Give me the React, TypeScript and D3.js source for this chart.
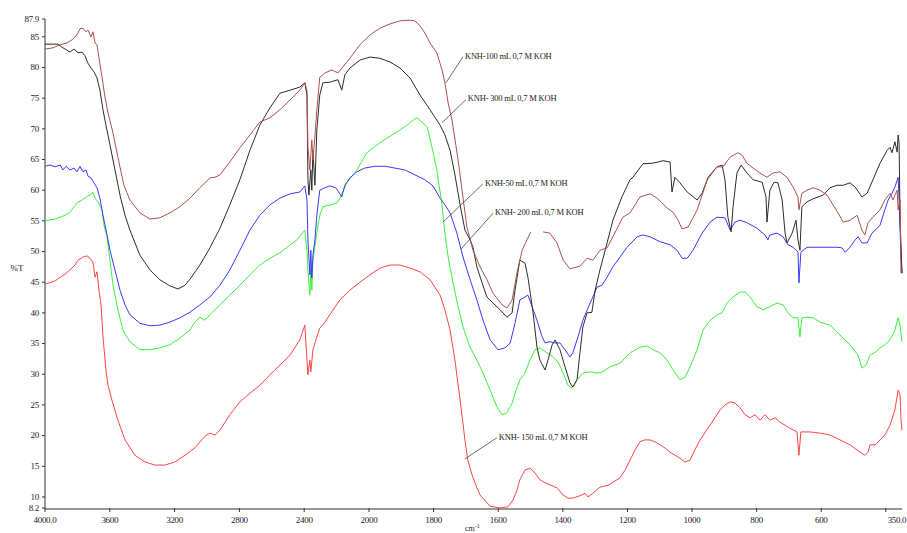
import React from "react";
import * as d3 from "d3";

type Pt = [number, number | null];

// KNH-100 mL (brown)
const brownData: Pt[] = [
  [4000,83.0],[3951,83.2],[3907,83.7],[3864,84.0],[3833,84.5],[3803,85.3],[3784,86.3],[3766,86.4],[3747,85.8],[3735,86.1],
  [3716,85.0],[3704,85.8],[3691,84.0],[3679,83.7],[3648,78.4],[3630,75.2],[3611,72.6],[3580,69.3],[3550,65.4],[3513,60.8],
  [3476,58.4],[3414,56.3],[3352,55.3],[3291,55.5],[3229,56.3],[3167,57.3],[3105,58.7],[3044,60.4],[2982,62.0],[2951,62.1],
  [2920,62.5],[2859,64.6],[2797,66.9],[2735,69.0],[2674,71.1],[2612,71.8],[2550,73.1],[2488,74.7],[2427,76.3],[2396,77.5],
  [2383,76.3],[2377,67.0],[2365,63.3],[2353,68.2],[2346,64.9],[2334,68.7],[2322,73.1],[2304,78.4],[2272,79.1],[2229,79.6],
  [2192,79.1],[2161,80.1],[2118,81.5],[2056,83.7],[1997,85.3],[1966,86.4],[1935,87.1],[1904,87.6],[1873,87.7],[1858,87.6],
  [1842,86.8],[1827,85.6],[1811,84.0],[1790,82.4],[1774,79.6],[1765,77.5],[1755,74.2],[1743,71.4],[1724,64.9],[1712,60.0],
  [1697,54.0],[1678,50.2],[1656,47.5],[1635,45.4],[1616,43.2],[1588,41.3],[1573,40.8],[1557,42.1],[1542,46.5],[1526,50.2],
  [1511,51.9],[1499,53.2],[1480,null],[1461,53.2],[1440,53.0],[1418,51.4],[1399,48.6],[1378,47.2],[1347,47.6],[1325,48.9],
  [1307,48.6],[1285,50.2],[1263,50.6],[1245,52.4],[1214,55.6],[1192,56.3],[1161,58.9],[1130,59.4],[1108,58.7],[1077,57.1],
  [1059,56.4],[1043,55.1],[1031,53.7],[1012,54.0],[984,56.8],[953,61.7],[923,63.8],[904,63.8],[882,65.4],[858,66.1],
  [845,65.7],[830,64.4],[811,63.6],[790,62.8],[768,62.1],[749,62.8],[728,63.0],[706,62.1],[687,60.5],[672,58.9],
  [669,56.8],[660,59.5],[644,60.0],[625,60.4],[604,60.0],[582,59.2],[567,57.9],[548,56.3],[532,54.8],[511,55.1],
  [489,55.9],[474,53.5],[465,52.7],[455,54.7],[440,55.6],[418,56.8],[403,58.4],[387,59.5],[378,58.4],[365,60.0],
  [362,56.8],[356,58.4],[353,46.5],[350,46.5],
];

// KNH-300 mL (black)
const blackData: Pt[] = [
  [4000,83.8],[3920,83.8],[3895,83.3],[3870,82.9],[3846,82.5],[3821,83.0],[3796,82.4],[3772,82.5],[3753,81.9],[3735,80.7],
  [3716,79.9],[3698,79.3],[3679,78.3],[3661,76.3],[3642,73.1],[3624,70.6],[3599,67.4],[3568,63.3],[3537,59.2],[3506,55.9],
  [3476,53.5],[3414,49.4],[3352,47.0],[3291,45.4],[3229,44.4],[3179,43.9],[3136,44.5],[3105,45.5],[3044,47.8],[2982,50.6],
  [2920,53.8],[2859,57.6],[2797,61.7],[2735,66.5],[2674,70.6],[2612,73.4],[2550,75.8],[2488,76.3],[2427,76.8],[2396,77.5],
  [2383,75.5],[2377,61.7],[2371,59.2],[2359,63.3],[2353,60.0],[2346,66.5],[2334,60.8],[2322,69.8],[2304,75.5],[2285,77.5],
  [2242,77.6],[2192,78.0],[2168,76.3],[2149,78.8],[2118,79.9],[2056,81.2],[1997,81.7],[1966,81.5],[1935,80.9],[1904,79.9],
  [1873,78.3],[1842,75.5],[1811,73.1],[1780,70.6],[1765,69.0],[1749,66.5],[1734,62.5],[1718,57.6],[1703,53.5],[1687,51.9],
  [1678,50.7],[1666,47.5],[1650,44.9],[1635,42.6],[1616,41.6],[1594,40.5],[1573,39.3],[1557,40.0],[1548,43.7],[1533,48.6],
  [1517,48.1],[1508,45.8],[1492,40.0],[1480,34.4],[1471,32.3],[1455,30.7],[1446,32.3],[1433,34.8],[1424,35.6],[1409,34.0],
  [1393,31.2],[1378,28.6],[1369,27.9],[1356,29.1],[1347,33.5],[1338,37.7],[1325,40.0],[1310,40.1],[1300,43.7],[1285,47.0],
  [1263,51.4],[1245,55.1],[1217,58.9],[1192,61.7],[1183,62.1],[1152,64.3],[1121,64.4],[1090,64.8],[1068,64.6],[1062,59.7],
  [1053,62.1],[1037,61.2],[1015,59.7],[984,58.4],[969,59.5],[950,62.1],[923,63.8],[907,64.1],[898,61.7],[889,55.6],
  [879,53.2],[873,57.3],[861,62.8],[848,64.1],[830,62.8],[811,61.7],[783,61.3],[771,58.9],[768,54.8],[759,60.0],
  [746,61.3],[734,61.2],[721,58.4],[712,53.0],[706,51.4],[690,53.0],[678,55.1],[672,51.9],[666,50.2],[660,57.3],
  [644,58.1],[625,58.6],[594,59.2],[573,60.4],[551,60.8],[532,60.8],[511,61.2],[495,60.5],[474,58.9],[458,59.5],
  [440,61.7],[418,64.4],[396,66.5],[387,67.0],[381,66.1],[372,67.9],[365,66.2],[362,69.0],[359,67.7],[356,55.1],[350,46.5],
];

// KNH-50 mL (blue)
const blueData: Pt[] = [
  [4000,63.9],[3969,64.1],[3938,63.8],[3907,64.1],[3889,63.3],[3870,63.9],[3846,63.3],[3821,63.6],[3803,63.0],[3784,63.9],
  [3766,63.0],[3747,63.3],[3735,62.3],[3716,62.0],[3698,61.2],[3679,60.4],[3661,58.7],[3642,55.9],[3617,52.7],[3599,50.2],
  [3568,47.0],[3537,43.7],[3506,41.3],[3476,39.7],[3414,38.3],[3352,37.9],[3291,38.0],[3229,38.5],[3167,39.2],[3105,40.1],
  [3044,41.3],[2982,42.6],[2920,44.5],[2859,47.0],[2797,50.2],[2735,53.5],[2674,55.9],[2612,57.6],[2550,58.7],[2488,59.4],
  [2427,59.7],[2396,60.7],[2383,58.4],[2377,51.9],[2365,46.2],[2359,50.2],[2353,45.7],[2346,49.4],[2334,51.9],[2322,55.9],
  [2304,60.0],[2272,60.4],[2242,60.7],[2205,60.4],[2180,59.4],[2168,58.9],[2149,60.8],[2118,62.0],[2075,63.0],[2026,63.6],
  [1981,63.9],[1950,63.9],[1920,63.6],[1889,63.3],[1858,62.5],[1827,61.7],[1802,60.7],[1780,58.7],[1765,57.6],[1749,56.3],
  [1728,53.0],[1709,49.1],[1687,45.4],[1666,42.1],[1647,38.8],[1625,35.6],[1601,34.0],[1579,34.3],[1563,35.1],[1548,38.3],
  [1533,42.1],[1517,42.6],[1508,42.9],[1495,41.0],[1480,38.8],[1464,36.1],[1455,35.1],[1440,35.3],[1424,35.1],[1409,35.1],
  [1393,34.0],[1378,32.8],[1369,33.5],[1353,36.1],[1338,38.8],[1322,40.8],[1307,42.6],[1294,44.2],[1279,44.5],[1263,45.8],
  [1245,47.5],[1223,49.1],[1201,50.7],[1170,52.4],[1152,52.7],[1130,52.4],[1099,51.6],[1068,51.1],[1046,50.2],[1031,48.9],
  [1015,48.9],[997,50.2],[969,53.0],[944,54.8],[923,55.6],[898,55.5],[882,53.5],[867,54.8],[851,55.1],[830,54.7],
  [799,53.8],[774,52.7],[765,51.9],[759,52.7],[737,53.0],[718,52.4],[703,51.1],[687,50.7],[672,49.9],[669,44.9],
  [663,49.9],[644,50.7],[625,50.7],[594,50.7],[551,50.7],[536,50.6],[526,49.9],[511,50.7],[495,51.9],[486,52.4],
  [474,51.4],[458,51.4],[443,53.0],[427,53.8],[418,54.3],[403,56.8],[393,58.4],[381,59.5],[372,60.5],[362,62.1],
  [359,58.4],[353,49.1],[350,46.5],
];

// KNH-200 mL (green)
const greenData: Pt[] = [
  [4000,55.0],[3938,55.3],[3907,55.6],[3877,55.9],[3846,56.4],[3821,57.3],[3803,57.9],[3772,58.4],[3753,58.7],[3735,59.1],
  [3722,59.2],[3704,59.7],[3691,58.7],[3673,58.1],[3648,56.8],[3636,54.3],[3617,52.4],[3599,48.6],[3580,44.5],[3550,40.5],
  [3519,37.2],[3476,35.3],[3414,34.0],[3352,34.0],[3291,34.3],[3229,34.8],[3167,35.9],[3105,37.2],[3075,38.5],[3044,39.3],
  [3013,38.8],[2982,39.7],[2920,41.3],[2859,42.9],[2797,44.5],[2735,46.2],[2674,47.8],[2612,48.9],[2550,49.8],[2445,51.9],
  [2396,53.5],[2383,50.2],[2377,47.0],[2365,42.9],[2359,47.0],[2353,43.7],[2346,48.6],[2322,53.0],[2304,55.9],[2285,57.3],
  [2242,57.6],[2198,57.9],[2180,58.7],[2137,61.2],[2075,63.3],[2013,66.1],[1975,67.4],[1944,68.5],[1913,69.5],[1882,70.6],
  [1864,71.4],[1851,71.8],[1836,71.1],[1820,70.3],[1805,67.0],[1790,63.3],[1774,57.6],[1765,53.0],[1755,49.1],[1740,44.9],
  [1724,41.0],[1709,37.7],[1687,34.4],[1666,32.3],[1647,30.2],[1625,27.4],[1604,24.7],[1588,23.4],[1573,23.7],[1557,25.3],
  [1548,26.9],[1533,29.1],[1517,30.2],[1502,32.3],[1486,34.0],[1471,34.3],[1449,33.5],[1430,32.8],[1415,32.0],[1399,30.2],
  [1384,28.2],[1372,27.8],[1356,29.1],[1338,30.2],[1316,30.4],[1294,30.2],[1276,30.4],[1254,31.2],[1223,31.8],[1192,33.5],
  [1161,34.4],[1139,34.6],[1121,34.0],[1099,33.5],[1077,32.3],[1059,30.7],[1037,29.1],[1022,29.5],[1006,31.2],[984,34.0],
  [966,37.2],[944,38.8],[923,39.7],[907,40.0],[892,41.6],[873,42.6],[851,43.4],[836,43.4],[820,42.6],[799,41.0],
  [780,40.5],[759,41.0],[737,41.6],[718,41.3],[703,40.0],[687,39.2],[672,39.2],[666,36.1],[660,39.2],[644,39.3],
  [625,39.2],[604,38.5],[573,38.0],[542,36.4],[511,34.8],[486,33.1],[474,31.0],[461,31.5],[449,33.1],[433,33.6],
  [418,34.3],[403,34.8],[387,35.6],[372,37.2],[362,39.2],[356,38.0],[350,35.3],
];

// KNH-150 mL (red)
const redData: Pt[] = [
  [4000,44.7],[3938,45.2],[3907,45.8],[3877,46.3],[3846,47.0],[3815,47.8],[3796,48.6],[3766,49.1],[3741,49.3],[3722,48.9],
  [3704,48.3],[3691,45.8],[3679,46.7],[3667,43.7],[3654,41.3],[3642,36.1],[3624,30.7],[3611,28.2],[3587,25.8],[3550,22.5],
  [3506,19.3],[3445,16.8],[3383,15.7],[3321,15.2],[3260,15.2],[3198,15.7],[3136,16.8],[3075,18.0],[3013,19.9],[2982,20.4],
  [2951,20.1],[2920,20.9],[2859,23.4],[2797,25.5],[2735,26.9],[2674,28.2],[2612,29.9],[2550,31.5],[2488,33.1],[2427,35.6],
  [2396,38.0],[2383,32.3],[2377,29.9],[2365,32.3],[2359,30.4],[2346,34.0],[2328,35.6],[2304,37.5],[2272,38.5],[2242,39.7],
  [2180,42.1],[2149,42.9],[2118,43.7],[2056,45.0],[1997,46.2],[1966,47.3],[1935,47.8],[1904,47.8],[1873,47.3],[1842,46.7],
  [1811,45.4],[1780,42.9],[1765,40.5],[1749,37.2],[1734,32.3],[1718,25.8],[1703,19.3],[1694,16.0],[1681,13.6],[1669,11.9],
  [1656,10.3],[1625,8.5],[1594,8.2],[1570,8.4],[1554,9.5],[1542,11.1],[1533,12.8],[1517,14.4],[1502,14.7],[1486,13.9],
  [1471,12.8],[1455,12.3],[1418,11.5],[1399,10.3],[1384,9.8],[1369,9.8],[1347,10.2],[1331,10.6],[1322,10.0],[1307,10.6],
  [1285,11.6],[1260,11.9],[1245,12.4],[1223,13.1],[1207,14.4],[1192,16.0],[1176,17.7],[1161,19.0],[1146,19.3],[1130,19.3],
  [1115,19.0],[1099,18.5],[1084,18.0],[1068,17.3],[1037,16.3],[1022,15.7],[1006,16.0],[991,17.7],[975,19.3],[944,21.7],
  [913,24.2],[898,25.0],[882,25.5],[867,25.3],[851,24.5],[836,23.4],[820,22.9],[805,23.4],[790,22.5],[774,23.4],
  [759,22.5],[743,22.9],[728,22.2],[697,21.2],[675,20.6],[669,16.8],[663,20.6],[635,20.6],[604,20.4],[573,20.1],
  [542,19.3],[511,18.5],[480,17.3],[465,16.8],[455,17.3],[449,18.5],[433,18.5],[418,19.3],[403,20.1],[387,21.7],
  [372,24.2],[362,27.4],[356,26.6],[353,22.5],[350,20.9],
];

const seriesNames = ["KNH- 200 mL 0,7 M KOH", "KNH-50 mL 0,7 M KOH", "KNH- 150 mL 0,7 M KOH", "KNH- 300 mL 0,7 M KOH", "KNH-100 mL 0,7 M KOH"];
const seriesData = [greenData, blueData, redData, blackData, brownData];
const seriesColors = ["#3cf03c", "#3838ff", "#ff4444", "#2b2b2b", "#b0504a"];

// annotations: label, text anchor (wavenumber, %T), leader end (wavenumber, %T)
const annLabels = ["KNH-100 mL 0,7 M KOH", "KNH- 300 mL 0,7 M KOH", "KNH-50 mL 0,7 M KOH", "KNH- 200 mL 0,7 M KOH", "KNH- 150 mL 0,7 M KOH"];
const annText: [number, number][] = [[1703, 81.9], [1694, 74.9], [1641, 61.2], [1610, 56.4], [1598, 19.8]];
const annEnd: [number, number][] = [[1762, 77.5], [1774, 71.0], [1771, 54.8], [1715, 50.4], [1703, 16.2]];

const yTicks = [87.9, 85, 80, 75, 70, 65, 60, 55, 50, 45, 40, 35, 30, 25, 20, 15, 10, 8.2];
const xTicks = [4000, 3600, 3200, 2800, 2400, 2000, 1800, 1600, 1400, 1200, 1000, 800, 600, 400];
const xLabels = ["4000.0", "3600", "3200", "2800", "2400", "2000", "1800", "1600", "1400", "1200", "1000", "800", "600", ""];
const xEndLabel = "350.0";

const W = 907, H = 533;
const FONT = "'Liberation Serif', 'Times New Roman', serif";

export default function App() {
  const x = d3.scaleLinear().domain([4000, 2000, 350]).range([45, 369, 902]);
  const y = d3.scaleLinear().domain([8.2, 87.9]).range([508, 19]);
  const line = d3.line<Pt>()
    .defined((d) => d[1] !== null)
    .x((d) => x(d[0]))
    .y((d) => y(d[1] as number));

  const axisY = y(8.2) + 1;
  return (
    <svg width={W} height={H} style={{ position: "absolute", left: 0, top: 0, display: "block", background: "#fff" }}
      fontFamily={FONT} fontSize={9}>
      <rect x={0} y={0} width={W} height={H} fill="#fff" />
      {/* y axis */}
      <line x1={45} x2={45} y1={y(87.9)} y2={axisY} stroke="#333" strokeWidth={1} />
      {yTicks.map((t, i) => (
        <g key={"yt" + i}>
          <line x1={42} x2={45} y1={y(t)} y2={y(t)} stroke="#333" />
          <text x={39} y={y(t)} dy="0.32em" textAnchor="end" fill="#222" letterSpacing={-0.3}>
            {t === 87.9 || t === 8.2 ? t.toFixed(1) : String(t)}
          </text>
        </g>
      ))}
      <text x={17} y={y(45) - 14} dy="0.32em" textAnchor="middle" fill="#222">%T</text>
      {/* x axis */}
      <line x1={45} x2={x(350)} y1={axisY} y2={axisY} stroke="#333" strokeWidth={1} />
      {xTicks.map((t, i) => (
        <g key={"xt" + i}>
          <line x1={x(t)} x2={x(t)} y1={axisY - 1} y2={axisY + 3} stroke="#333" />
          <text x={x(t)} y={axisY + 14} textAnchor="middle" fill="#222" letterSpacing={-0.3}>{xLabels[i]}</text>
        </g>
      ))}
      <text x={W - 1} y={axisY + 14} textAnchor="end" fill="#222" letterSpacing={-0.4}>{xEndLabel}</text>
      <text x={465} y={531} fill="#222" fontSize={8}>cm<tspan dy={-3} fontSize={6}>-1</tspan></text>
      {/* series */}
      {seriesData.map((data, i) => (
        <path key={seriesNames[i]} d={line(data) || ""} fill="none" stroke={seriesColors[i]} strokeWidth={1} strokeLinejoin="round" />
      ))}
      {/* annotations */}
      {annLabels.map((lab, i) => (
        <g key={"ann" + i}>
          <line x1={x(annText[i][0]) - 2} y1={y(annText[i][1]) + 1} x2={x(annEnd[i][0])} y2={y(annEnd[i][1])} stroke="#444" strokeWidth={0.8} />
          <text x={x(annText[i][0])} y={y(annText[i][1])} dy="0.32em" fill="#222" fontSize={8.5} letterSpacing={-0.2}>{lab}</text>
        </g>
      ))}
    </svg>
  );
}
